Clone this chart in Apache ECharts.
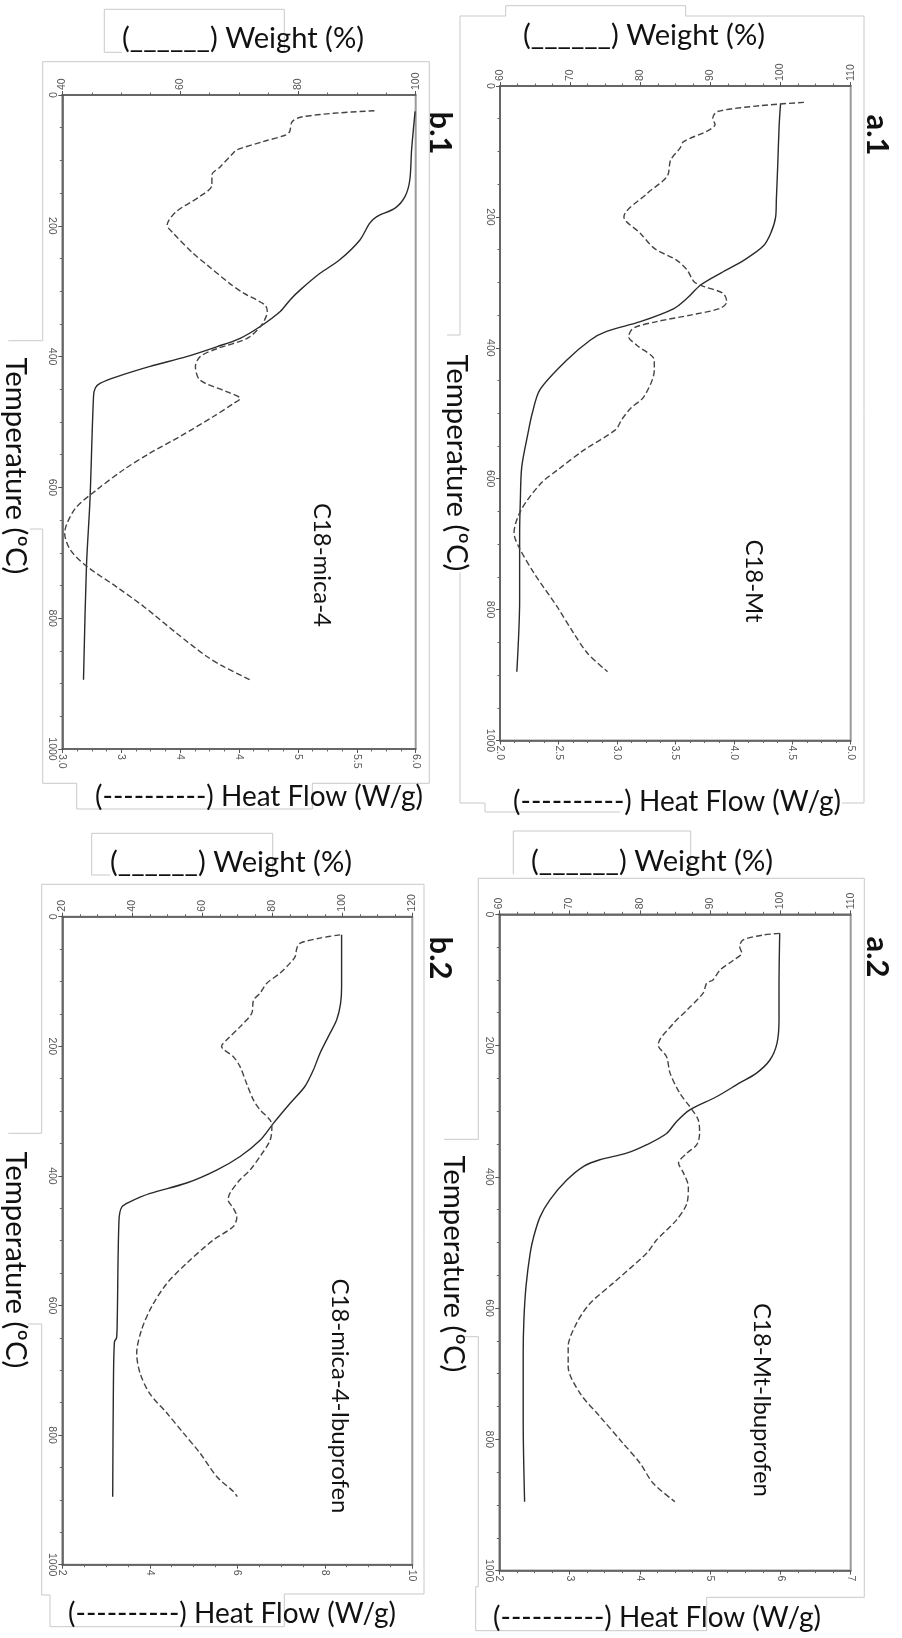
<!DOCTYPE html>
<html><head><meta charset="utf-8">
<script src="https://cdn.jsdelivr.net/npm/echarts@6/dist/echarts.min.js"></script>
<style>html,body{margin:0;padding:0;background:#fff}#c{width:902px;height:1638px}</style>
</head><body><div id="c"></div>
<script>
// ---------- Data (temperature in ºC, weight in %, heat flow in W/g) ----------
// a.1  C18-Mt
const tA1w = [27, 60, 120, 174, 200, 225, 245, 266, 285, 304, 324, 340, 360, 375, 388, 419, 464, 500, 530, 582, 633, 684, 785, 895];
const wA1  = [100, 99.8, 99.6, 99.4, 99.3, 98.6, 97.5, 94.8, 91.6, 88.6, 86.7, 84.8, 80.0, 75.2, 72.9, 69.5, 65.7, 64.6, 64.0, 63.1, 62.9, 62.8, 62.8, 62.4];
const tA1h = [25, 30, 39, 49, 59, 69, 85, 95, 113, 138, 164, 200, 225, 248, 266, 281, 299, 306, 317, 330, 340, 350, 360, 370, 383, 396, 419, 434, 475, 492, 510, 525, 556, 587, 607, 648, 683, 704, 744, 796, 836, 867, 895];
const hA1  = [4.60, 4.23, 3.86, 3.82, 3.84, 3.77, 3.57, 3.54, 3.46, 3.43, 3.26, 3.06, 3.20, 3.32, 3.51, 3.60, 3.66, 3.74, 3.91, 3.94, 3.88, 3.63, 3.34, 3.14, 3.10, 3.17, 3.32, 3.32, 3.23, 3.12, 3.04, 2.99, 2.72, 2.49, 2.35, 2.18, 2.12, 2.16, 2.29, 2.49, 2.63, 2.75, 2.92];
// b.1  C18-mica-4
const tB1w = [25, 84, 130, 155, 173, 186, 196, 222, 252, 273, 298, 313, 331, 354, 372, 385, 400, 415, 431, 441, 448, 461, 619, 721, 894];
const wB1  = [99.9, 99.3, 99.0, 98.2, 96.5, 93.4, 92.2, 90.5, 87.1, 83.7, 80.4, 78.7, 77.0, 73.6, 70.2, 66.2, 61.1, 54.9, 49.2, 46.4, 45.6, 45.3, 44.7, 44.1, 43.6];
const tB1h = [24, 28, 34, 41, 56, 61, 71, 84, 89, 110, 122, 138, 155, 178, 199, 211, 242, 260, 288, 303, 321, 331, 352, 372, 388, 400, 415, 436, 454, 464, 472, 492, 522, 548, 573, 604, 630, 655, 670, 696, 721, 752, 782, 823, 859, 874, 894];
const hB1  = [5.65, 5.30, 5.02, 4.95, 4.93, 4.90, 4.71, 4.48, 4.45, 4.34, 4.27, 4.27, 4.17, 3.97, 3.89, 3.94, 4.11, 4.23, 4.42, 4.54, 4.72, 4.74, 4.69, 4.57, 4.31, 4.17, 4.13, 4.17, 4.40, 4.51, 4.45, 4.28, 4.00, 3.74, 3.52, 3.29, 3.12, 3.04, 3.02, 3.07, 3.21, 3.46, 3.69, 3.97, 4.23, 4.37, 4.59];
// a.2  C18-Mt-Ibuprofen
const tA2w = [29, 110, 161, 197, 222, 242, 257, 278, 298, 316, 334, 351, 364, 374, 384, 405, 435, 461, 491, 516, 567, 618, 669, 770, 895];
const wA2  = [99.9, 99.8, 99.8, 99.5, 98.5, 96.6, 94.2, 90.9, 87.1, 85.2, 83.8, 81.0, 78.1, 74.3, 72.0, 69.6, 67.2, 65.8, 64.9, 64.4, 63.8, 63.5, 63.4, 63.4, 63.6];
const tA2h = [29, 31.5, 39, 49, 59, 70, 85, 100, 105, 120, 146, 166, 199, 217, 242, 273, 293, 313, 334, 351, 364, 379, 394, 415, 440, 466, 496, 516, 562, 593, 623, 659, 689, 730, 765, 806, 836, 867, 895];
const hA2  = [5.99, 5.76, 5.47, 5.42, 5.45, 5.33, 5.14, 5.04, 4.95, 4.90, 4.67, 4.48, 4.26, 4.38, 4.43, 4.57, 4.71, 4.83, 4.85, 4.81, 4.67, 4.55, 4.62, 4.69, 4.67, 4.52, 4.24, 4.10, 3.62, 3.29, 3.10, 2.98, 2.98, 3.15, 3.43, 3.76, 4.00, 4.19, 4.50];
// b.2  C18-mica-4-Ibuprofen
const tB2w = [28, 108, 134, 159, 185, 211, 237, 262, 288, 319, 345, 370, 391, 411, 427, 440, 448, 468, 622, 650, 656, 725, 895];
const wB2  = [99.8, 99.8, 99.5, 98.4, 96.0, 93.6, 91.7, 89.3, 85.1, 80.3, 76.5, 70.8, 64.1, 55.5, 45.1, 39.3, 37.0, 36.2, 35.7, 35.5, 34.9, 34.6, 34.4];
const tB2h = [28, 33, 41, 49, 62, 72, 87, 103, 118, 129, 149, 170, 190, 200, 216, 231, 257, 283, 298, 314, 324, 345, 370, 391, 406, 427, 437, 450, 463, 478, 499, 535, 566, 602, 638, 674, 705, 736, 766, 797, 828, 864, 887, 895];
const hB2  = [8.35, 7.89, 7.43, 7.36, 7.32, 7.20, 6.98, 6.67, 6.52, 6.37, 6.33, 6.06, 5.76, 5.64, 5.91, 6.06, 6.21, 6.37, 6.52, 6.75, 6.79, 6.75, 6.52, 6.29, 6.06, 5.83, 5.79, 5.91, 5.99, 5.91, 5.45, 4.84, 4.39, 4.04, 3.81, 3.70, 3.78, 4.00, 4.39, 4.77, 5.15, 5.53, 5.91, 6.00];

// tick labels
const hfLabelsB1 = ['3.0', '3', '4', '4', '5', '5.5', '6.0'];
const panelNames = ['a.1', 'b.1', 'a.2', 'b.2'];
const sampleNames = ['C18-Mt', 'C18-mica-4', 'C18-Mt-Ibuprofen', 'C18-mica-4-Ibuprofen'];
const weightTitle = '(______) Weight (%)';
const heatTitle = '(----------) Heat Flow (W/g)';
const tempTitle = 'Temperature (\u00BAC)';

// ---------- layout ----------
const panels = [
  { grid: {left: 500, top: 86, width: 350.7, height: 654.5},
    wMin: 60, wMax: 110, wInt: 10, hMin: 2, hMax: 5, hInt: 0.5, hFmt: v => v.toFixed(1),
    tw: tA1w, w: wA1, th: tA1h, h: hA1 },
  { grid: {left: 62.3, top: 95, width: 353.4, height: 654},
    wMin: 40, wMax: 100, wInt: 20, hMin: 3, hMax: 6, hInt: 0.5, hFmt: v => hfLabelsB1[Math.round((v - 3) / 0.5)],
    tw: tB1w, w: wB1, th: tB1h, h: hB1 },
  { grid: {left: 499.3, top: 914.3, width: 351.4, height: 656.3},
    wMin: 60, wMax: 110, wInt: 10, hMin: 2, hMax: 7, hInt: 1, hFmt: v => String(v),
    tw: tA2w, w: wA2, th: tA2h, h: hA2 },
  { grid: {left: 62.3, top: 916.7, width: 350, height: 648},
    wMin: 20, wMax: 120, wInt: 20, hMin: 2, hMax: 10, hInt: 2, hFmt: v => String(v),
    tw: tB2w, w: wB2, th: tB2h, h: hB2 }
];

const axisCol = '#555';
const labelStyle = {color: '#555', fontSize: 10.5, fontFamily: 'Liberation Sans', rotate: -90, margin: 5};
function commonAxis() {
  return {
    axisLine: {show: true, onZero: false, lineStyle: {color: axisCol, width: 1.5}},
    axisTick: {show: true, length: 4, lineStyle: {color: axisCol, width: 1}},
    minorTick: {show: true, splitNumber: 4, length: 2.5, lineStyle: {color: '#666', width: 1}},
    splitLine: {show: false}, minorSplitLine: {show: false}
  };
}

const grids = [], xAxes = [], yAxes = [], series = [];
panels.forEach((p, i) => {
  grids.push(Object.assign({show: true, borderColor: '#9a9a9a', borderWidth: 2, backgroundColor: 'transparent'}, p.grid));
  xAxes.push(Object.assign(commonAxis(), {
    type: 'value', gridIndex: i, position: 'top', min: p.wMin, max: p.wMax, interval: p.wInt,
    axisLabel: Object.assign({}, labelStyle, {formatter: v => String(v), showMinLabel: true, showMaxLabel: true})
  }));
  xAxes.push(Object.assign(commonAxis(), {
    type: 'value', gridIndex: i, position: 'bottom', min: p.hMin, max: p.hMax, interval: p.hInt,
    axisLabel: Object.assign({}, labelStyle, {formatter: p.hFmt, showMinLabel: true, showMaxLabel: true})
  }));
  yAxes.push(Object.assign(commonAxis(), {
    type: 'value', gridIndex: i, position: 'left', inverse: true, min: 0, max: 1000, interval: 200,
    axisLabel: Object.assign({}, labelStyle, {formatter: v => String(v), showMinLabel: true, showMaxLabel: true})
  }));
  series.push({
    type: 'line', xAxisIndex: 2 * i, yAxisIndex: i, showSymbol: false, smooth: 0.3,
    lineStyle: {color: '#2a2a2a', width: 1.4, type: 'solid'},
    data: p.w.map((v, k) => [v, p.tw[k]])
  });
  series.push({
    type: 'line', xAxisIndex: 2 * i + 1, yAxisIndex: i, showSymbol: false, smooth: 0.3,
    lineStyle: {color: '#444', width: 1.4, type: [6, 3]},
    data: p.h.map((v, k) => [v, p.th[k]])
  });
});

// ---------- decorations / text ----------
const ctx = document.createElement('canvas').getContext('2d');
function fit(text, family, weight, target) {
  ctx.font = weight + ' 100px ' + family;
  return 100 * target / ctx.measureText(text).width;
}
const FAM = 'Lato';
function txt(text, x, y, size, rotated, bold) {
  return {
    type: 'text', x: x, y: y, rotation: rotated ? -Math.PI / 2 : 0, z: 20,
    style: {text: text, fontSize: size, fontFamily: FAM, fontWeight: bold ? 'bold' : 'normal',
            fill: '#111', align: 'center', verticalAlign: 'middle'}
  };
}
const boxCol = '#c9c9c9';
function pl(points) {
  return {type: 'polyline', z: 1, shape: {points: points}, style: {stroke: boxCol, lineWidth: 1, fill: null}};
}
const outlines = [
  // a.1
  [[460,335],[460,16],[505.7,16],[505.7,5.7],[685.7,5.7],[685.7,16],[864,16],[864,803],[842,803]],
  [[447,335],[460,335]],
  [[460,572],[460,803],[485,803],[485,812],[620,812]],
  // b.1
  [[104.3,52.3],[104.3,9.3],[284.3,9.3],[284.3,52.3]],
  [[104.3,52.3],[122,52.3]],
  [[8.3,340.7],[42.7,340.7],[42.7,61.7],[429.3,61.7],[429.3,783.3],[312.3,783.3],[312.3,809],[76.7,809],[76.7,783.3],[42.7,783.3],[42.7,529],[30,529]],
  // a.2
  [[513.3,874.3],[513.3,831],[690.7,831],[690.7,874.3]],
  [[444,1139.3],[478.3,1139.3],[478.3,878.3],[864.3,878.3],[864.3,1597.3],[706.7,1597.3],[706.7,1630.7],[475.7,1630.7],[475.7,1586.7],[478.3,1586.7],[478.3,1336.7],[464,1336.7]],
  // b.2
  [[110,875],[91.7,875],[91.7,833.3],[272.7,833.3],[272.7,875]],
  [[8.3,1133.3],[41.7,1133.3],[41.7,884.3],[424,884.3],[424,1594],[284.3,1594],[284.3,1626.7],[50,1626.7],[50,1595],[41.7,1595],[41.7,1324],[28,1324]]
];

const wSize = fit(weightTitle, FAM, 'normal', 242);
const hSize = fit(heatTitle, FAM, 'normal', 328);
const tSize = fit(tempTitle, FAM, 'normal', 217);
const sSize = fit(sampleNames[3], FAM, 'normal', 235);
const pSize = fit(panelNames[0], FAM, 'bold', 41);

const weightPos = [[644, 36], [243, 39], [652, 862], [231, 863]];
const heatPos   = [[677, 802], [259, 797], [657, 1618], [232, 1614]];
const tempPos   = [[456, 463], [15, 466], [453, 1264], [15, 1260]];
const samplePos = [[754, 581], [322, 565], [762, 1400], [340, 1396]];
const panelPos  = [[877, 135], [440, 133], [877, 957], [440, 958]];

const graphics = outlines.map(pl);
for (let i = 0; i < 4; i++) {
  graphics.push(txt(weightTitle, weightPos[i][0], weightPos[i][1], wSize, false, false));
  graphics.push(txt(heatTitle, heatPos[i][0], heatPos[i][1], hSize, false, false));
  graphics.push(txt(tempTitle, tempPos[i][0], tempPos[i][1], tSize, true, false));
  graphics.push(txt(sampleNames[i], samplePos[i][0], samplePos[i][1], sSize, true, false));
  graphics.push(txt(panelNames[i], panelPos[i][0], panelPos[i][1], pSize, true, true));
}

const chart = echarts.init(document.getElementById('c'), null, {renderer: 'canvas'});
chart.setOption({
  animation: false,
  backgroundColor: '#fff',
  grid: grids, xAxis: xAxes, yAxis: yAxes, series: series,
  graphic: {elements: graphics}
});
</script></body></html>
